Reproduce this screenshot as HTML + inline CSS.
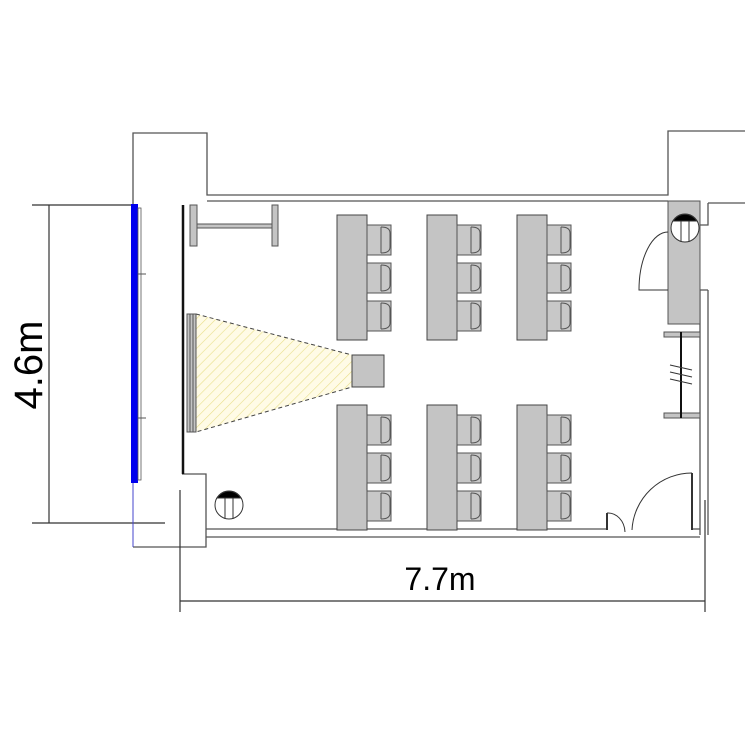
<!DOCTYPE html>
<html><head><style>body{margin:0;background:#fff}svg{display:block}</style></head><body>
<svg width="750" height="750" viewBox="0 0 750 750" xmlns="http://www.w3.org/2000/svg">
<defs>
<pattern id="h" width="7" height="7" patternUnits="userSpaceOnUse" patternTransform="rotate(45)">
<rect width="7" height="7" fill="#fffbe6"/><line x1="0" y1="0" x2="0" y2="7" stroke="#e8df8a" stroke-width="1.2"/></pattern>
<g id="chair"><rect x="0" y="0" width="24" height="30" fill="#c8c8c8" stroke="#555" stroke-width="1"/>
<path d="M14 2 Q23 2 23 8 L23 22 Q23 28 14 28" fill="none" stroke="#555"/><line x1="14" y1="2" x2="14" y2="28" stroke="#555"/></g>
<g id="grp"><rect x="0" y="0" width="30" height="125" fill="#c4c4c4" stroke="#444"/>
<use href="#chair" x="30" y="10"/><use href="#chair" x="30" y="48"/><use href="#chair" x="30" y="86"/></g>
</defs>
<g fill="none" stroke="#555" stroke-width="1.3">
<path d="M133 204 V133 H207 V195 H668 V131 H745"/>
<path d="M207 201 H668"/>
<path d="M708 203 V225 H700"/>
<path d="M700 290 V535 M708 290 V535 M700 290 H708"/>
<path d="M745 203 H708"/>
<path d="M206 529 H607 M206 537 H700"/>
<path d="M182 474 H206 V547 H133"/>
<path d="M692 529 H700"/>
</g>
<g stroke="#333" stroke-width="1.2" fill="none">
<line x1="49" y1="205" x2="49" y2="523"/>
<line x1="32" y1="205" x2="135" y2="205"/>
<line x1="32" y1="523" x2="165" y2="523"/>
<line x1="180" y1="601" x2="705" y2="601"/>
<line x1="180" y1="490" x2="180" y2="612"/>
<line x1="705" y1="500" x2="705" y2="612"/>
</g>
<line x1="133" y1="483" x2="133" y2="547" stroke="#44c" stroke-width="1"/>
<text x="440" y="590" font-family="Liberation Sans, sans-serif" font-size="32" text-anchor="middle" fill="#000">7.7m</text>
<text transform="translate(42,365) rotate(-90)" font-family="Liberation Sans, sans-serif" font-size="40" text-anchor="middle" fill="#000">4.6m</text>
<rect x="131" y="204" width="7" height="279" fill="#0000ee"/>
<rect x="138" y="208" width="3" height="272" fill="#fff" stroke="#555" stroke-width="0.8"/>
<line x1="138" y1="274" x2="146" y2="274" stroke="#555"/>
<line x1="138" y1="418" x2="146" y2="418" stroke="#555"/>
<line x1="183" y1="205" x2="183" y2="474" stroke="#111" stroke-width="2.5"/>
<g fill="#c4c4c4" stroke="#555">
<rect x="190" y="205" width="7" height="41"/><rect x="272" y="205" width="6" height="41"/>
<rect x="197" y="224" width="75" height="4"/></g>
<polygon points="196,314 352,355 352,387 196,432" fill="url(#h)" stroke="#444" stroke-dasharray="4,3"/>
<rect x="187" y="314" width="9" height="118" fill="#c4c4c4" stroke="#555"/>
<line x1="190" y1="314" x2="190" y2="432" stroke="#555"/><line x1="193" y1="314" x2="193" y2="432" stroke="#555"/>
<rect x="352" y="355" width="32" height="32" fill="#c4c4c4" stroke="#444"/>
<use href="#grp" x="337" y="215"/><use href="#grp" x="427" y="215"/><use href="#grp" x="517" y="215"/>
<use href="#grp" x="337" y="405"/><use href="#grp" x="427" y="405"/><use href="#grp" x="517" y="405"/>
<rect x="668" y="201" width="32" height="123" fill="#c4c4c4" stroke="#555"/>
<path d="M668 232 A29 58 0 0 0 639 290 H668" fill="none" stroke="#333"/>
<g stroke="#333" fill="#fff">
<circle cx="685" cy="228" r="14"/><path d="M673 221 A14 14 0 0 1 697 221 Z" fill="#000"/>
<line x1="681" y1="221" x2="681" y2="242"/><line x1="689" y1="221" x2="689" y2="242"/>
<circle cx="229" cy="505" r="14"/><path d="M217 498 A14 14 0 0 1 241 498 Z" fill="#000"/>
<line x1="225" y1="498" x2="225" y2="519"/><line x1="233" y1="498" x2="233" y2="519"/>
</g>
<rect x="664" y="332" width="36" height="5" fill="#c4c4c4" stroke="#555"/>
<rect x="664" y="413" width="36" height="5" fill="#c4c4c4" stroke="#555"/>
<line x1="681" y1="332" x2="681" y2="418" stroke="#111" stroke-width="2"/>
<g stroke="#333"><line x1="670" y1="365" x2="692" y2="370"/><line x1="670" y1="372" x2="692" y2="377"/><line x1="670" y1="379" x2="692" y2="384"/></g>
<g fill="none" stroke="#333">
<line x1="607" y1="513" x2="607" y2="530" stroke-width="2"/>
<line x1="692" y1="473" x2="692" y2="530" stroke-width="2"/>
<path d="M607 513 A17 20 0 0 1 625 532"/>
<path d="M692 473 A60 60 0 0 0 632 530"/>
</g>
</svg>
</body></html>
